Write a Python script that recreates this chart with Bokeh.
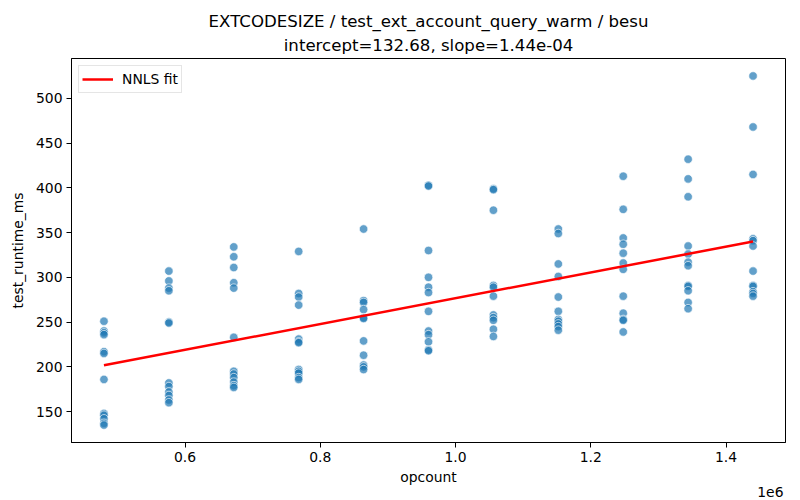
from bokeh.plotting import figure
from bokeh.models import (Title, FixedTicker, CustomJSTickFormatter,
                          Range1d, ColumnDataSource, Legend, LegendItem)
from bokeh.embed import file_html
from bokeh.resources import INLINE

# ---- data ----
opcount_levels = [480000, 576000, 672000, 768000, 864000, 960000,
                  1056000, 1152000, 1248000, 1344000, 1440000]
runtime_480k = [251, 240, 238, 236, 217, 215, 186, 148, 146, 142, 137, 135]
runtime_576k = [307, 296, 288, 285, 250, 249, 182, 178, 172, 168, 163, 160]
runtime_672k = [334, 323, 311, 294, 288, 233, 195, 192, 188, 183, 179, 177]
runtime_768k = [329, 282, 278, 269, 231, 228, 227, 197, 195, 193, 188, 186]
runtime_864k = [354, 274, 272, 264, 255, 254, 229, 213, 202, 200, 197]
runtime_960k = [403, 402, 330, 300, 289, 283, 262, 240, 236, 228, 219, 218]
runtime_1056k = [399, 398, 375, 291, 289, 279, 258, 255, 252, 242, 234]
runtime_1152k = [354, 349, 315, 301, 278, 262, 253, 251, 248, 245, 241]
runtime_1248k = [413, 376, 344, 337, 327, 316, 309, 279, 260, 253, 252, 239]
runtime_1344k = [432, 410, 390, 335, 326, 317, 313, 291, 290, 285, 272, 265]
runtime_1440k = [525, 468, 415, 343, 341, 335, 307, 291, 290, 284, 282, 279]
intercept = 132.68
slope = 1.44e-4
x_ticks = [600000, 800000, 1000000, 1200000, 1400000]
y_ticks = [150, 200, 250, 300, 350, 400, 450, 500]

groups = [runtime_480k, runtime_576k, runtime_672k, runtime_768k, runtime_864k,
          runtime_960k, runtime_1056k, runtime_1152k, runtime_1248k,
          runtime_1344k, runtime_1440k]
xs, ys = [], []
for xv, g in zip(opcount_levels, groups):
    xs += [xv] * len(g)
    ys += g

xmin, xmax = min(xs), max(xs)
ymin, ymax = min(ys), max(ys)
xpad = (xmax - xmin) * 0.05
ypad = (ymax - ymin) * 0.05

FONT = "DejaVu Sans"
FS = "13.9px"
W, H = 800, 500
BL, BR, BT, BB = 71, 15, 58, 58

p = figure(width=W, height=H, output_backend="svg", toolbar_location=None,
           x_range=Range1d(xmin - xpad, xmax + xpad),
           y_range=Range1d(ymin - ypad, ymax + ypad),
           min_border_left=BL, min_border_right=BR,
           min_border_top=BT, min_border_bottom=BB)
p.title = None
p.add_layout(Title(text="intercept=132.68, slope=1.44e-04", align="center",
                   text_font=FONT, text_font_size="16.6px", text_color="black",
                   text_font_style="normal", standoff=7, offset=0), "above")
p.add_layout(Title(text="EXTCODESIZE / test_ext_account_query_warm / besu",
                   align="center", text_font=FONT, text_font_size="16.6px",
                   text_color="black", text_font_style="normal", standoff=0),
             "above")

p.xgrid.visible = False
p.ygrid.visible = False
p.outline_line_color = "black"
p.outline_line_width = 1
p.background_fill_color = "white"
p.border_fill_color = "white"

for ax in (p.xaxis[0], p.yaxis[0]):
    ax.major_label_text_font = FONT
    ax.major_label_text_font_size = FS
    ax.axis_label_text_font = FONT
    ax.axis_label_text_font_size = FS
    ax.axis_label_text_font_style = "normal"
    ax.axis_label_text_color = "black"
    ax.minor_tick_line_color = None
    ax.major_tick_out = 5
    ax.major_tick_in = 0
    ax.axis_line_color = "black"
    ax.major_label_text_color = "black"
    ax.major_label_standoff = 4

p.xaxis.axis_label = "opcount"
p.yaxis.axis_label = "test_runtime_ms"
p.xaxis.ticker = FixedTicker(ticks=x_ticks)
p.yaxis.ticker = FixedTicker(ticks=y_ticks)
p.xaxis.formatter = CustomJSTickFormatter(code="return (tick/1e6).toFixed(1);")
p.xaxis.axis_label_standoff = 4
p.yaxis.axis_label_standoff = 7

# offset text of the x axis
p.add_layout(Title(text="1e6", align="right", text_font=FONT,
                   text_font_size=FS, text_color="black",
                   text_font_style="normal", standoff=-5, offset=2), "below")

src = ColumnDataSource(dict(x=xs, y=ys))
p.scatter("x", "y", source=src, size=8.5, fill_color="#1f77b4",
          fill_alpha=0.7, line_color="white", line_width=0.7, line_alpha=0.9)

fx = [xmin, xmax]
fy = [intercept + slope * xmin, intercept + slope * xmax]
fit = p.line(fx, fy, line_color="red", line_width=2.5)

legend = Legend(items=[LegendItem(label="NNLS fit", renderers=[fit])],
                location="top_left", label_text_font=FONT,
                label_text_font_size=FS, label_text_color="black",
                border_line_color="#cccccc",
                border_line_width=1, padding=3, margin=7, glyph_width=31,
                label_standoff=9, spacing=0, background_fill_alpha=0.8)
p.add_layout(legend)

open("out.html", "w").write(file_html(p, INLINE))
